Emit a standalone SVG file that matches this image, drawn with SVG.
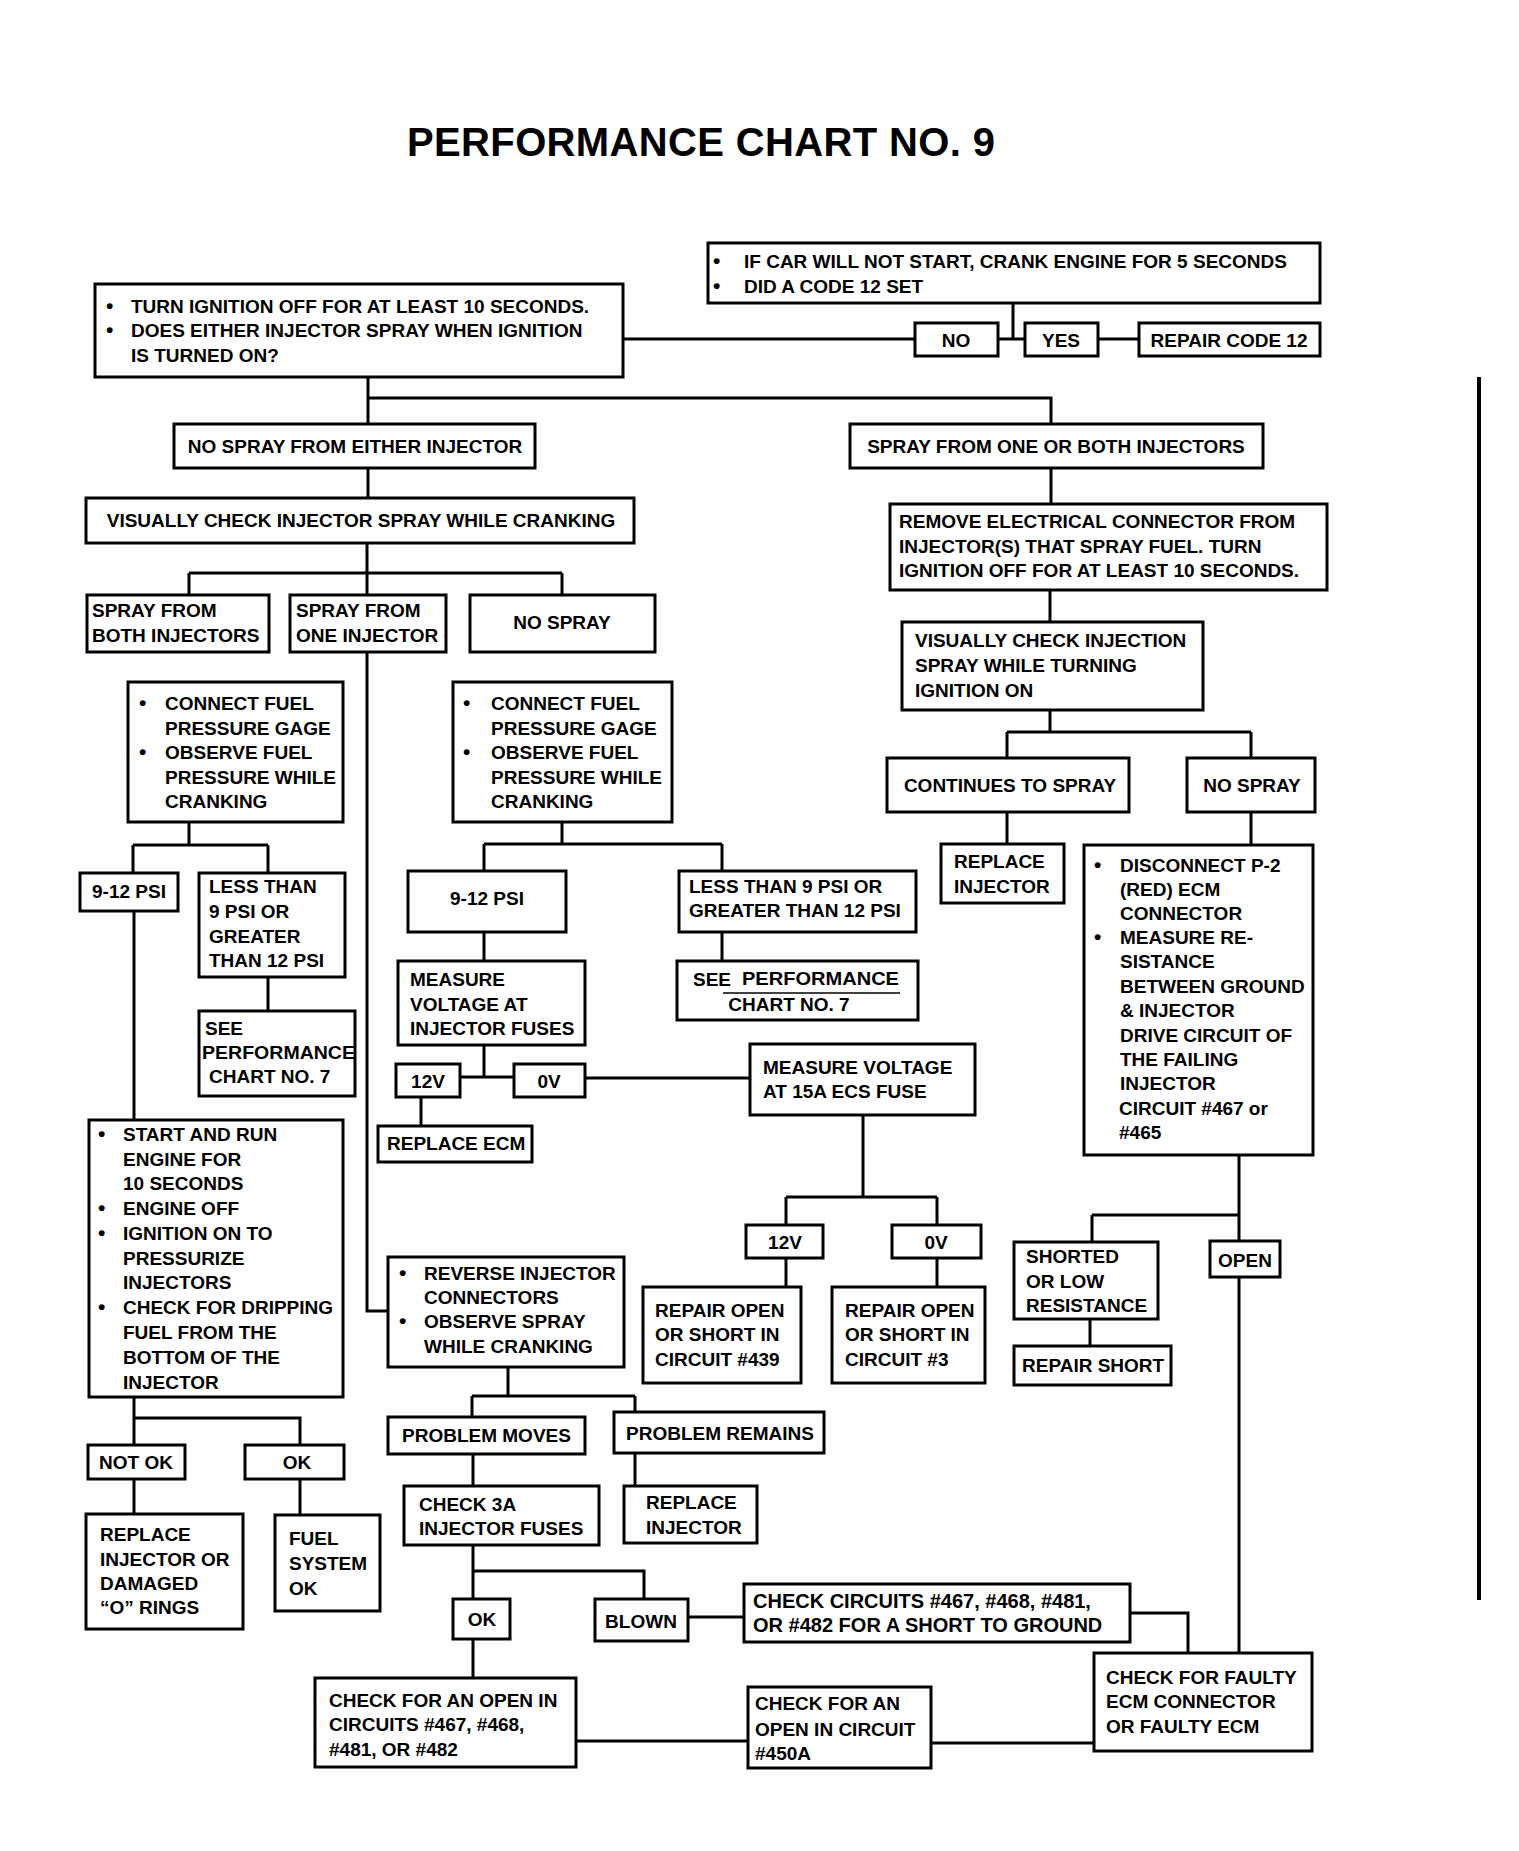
<svg xmlns="http://www.w3.org/2000/svg" width="1519" height="1851" viewBox="0 0 1519 1851">
<style>
.bx{fill:#fff;stroke:#000;stroke-width:3}
.ln{fill:none;stroke:#000;stroke-width:3}
text{font-family:"Liberation Sans",Arial,sans-serif;font-weight:bold;font-size:19px;fill:#000}
.m{text-anchor:middle}
.ttl{font-size:40px}
.big{font-size:20px}
.b{font-size:21px}
</style>
<rect width="1519" height="1851" fill="#fff"/>
<text class="ttl" x="407" y="156" textLength="588">PERFORMANCE CHART NO. 9</text>
<line x1="1479" y1="377" x2="1479" y2="1600" stroke="#000" stroke-width="4"/>

<g id="connectors" class="ln">
<path d="M623,339H915M998,339H1025M1013,303V339M1098,339H1139"/>
<path d="M368,377V424M368,398H1051V424"/>
<path d="M368,468V498M1051,468V504"/>
<path d="M367,543V595M189,573H562M189,573V595M562,573V595"/>
<path d="M367,652V1311H388"/>
<path d="M1050,590V622M1050,710V732M1007,732H1251M1007,732V758M1251,732V758"/>
<path d="M189,822V845M133,845H268M133,845V873M268,845V873"/>
<path d="M562,822V844M484,844H722M484,844V871M722,844V871"/>
<path d="M1007,812V844M1251,812V845"/>
<path d="M134,911V1120M268,977V1011M484,932V961M722,932V961"/>
<path d="M484,1045V1077M460,1077H514M585,1078H750M421,1097V1126"/>
<path d="M863,1115V1197M786,1197H937M786,1197V1225M937,1197V1225M786,1258V1287M937,1258V1287"/>
<path d="M1239,1155V1653M1092,1215H1239M1092,1215V1242M1090,1319V1346"/>
<path d="M134,1397V1445M134,1418H300V1445M134,1479V1514M300,1479V1515"/>
<path d="M508,1367V1396M472,1396H635M472,1396V1417M635,1396V1412"/>
<path d="M473,1454V1486M635,1453V1486"/>
<path d="M473,1545V1599M473,1571H644V1599M473,1639V1678"/>
<path d="M688,1617H744M1130,1613H1188V1653"/>
<path d="M576,1741H748M931,1743H1094"/>
</g>

<g id="n_turn_off"><rect class="bx" x="95" y="284" width="528" height="93"/>
<text class="b" x="106" y="313">•</text><text x="131" y="313">TURN IGNITION OFF FOR AT LEAST 10 SECONDS.</text>
<text class="b" x="106" y="337">•</text><text x="131" y="337">DOES EITHER INJECTOR SPRAY WHEN IGNITION</text>
<text x="131" y="362">IS TURNED ON?</text></g>

<g id="n_code12"><rect class="bx" x="708" y="243" width="612" height="60"/>
<text class="b" x="713" y="268">•</text><text x="744" y="268">IF CAR WILL NOT START, CRANK ENGINE FOR 5 SECONDS</text>
<text class="b" x="713" y="293">•</text><text x="744" y="293">DID A CODE 12 SET</text></g>

<g id="n_no"><rect class="bx" x="915" y="323" width="83" height="33"/><text class="m" x="956" y="347">NO</text></g>
<g id="n_yes"><rect class="bx" x="1025" y="323" width="73" height="33"/><text class="m" x="1061" y="347">YES</text></g>
<g id="n_repair12"><rect class="bx" x="1139" y="323" width="181" height="33"/><text class="m" x="1229" y="347">REPAIR CODE 12</text></g>

<g id="n_nospray_either"><rect class="bx" x="174" y="424" width="361" height="44"/><text class="m" x="355" y="453">NO SPRAY FROM EITHER INJECTOR</text></g>
<g id="n_spray_one_both"><rect class="bx" x="850" y="424" width="413" height="44"/><text class="m" x="1056" y="453">SPRAY FROM ONE OR BOTH INJECTORS</text></g>

<g id="n_visual_crank"><rect class="bx" x="86" y="498" width="548" height="45"/><text class="m" x="361" y="527">VISUALLY CHECK INJECTOR SPRAY WHILE CRANKING</text></g>

<g id="n_remove"><rect class="bx" x="890" y="504" width="437" height="86"/>
<text x="899" y="528">REMOVE ELECTRICAL CONNECTOR FROM</text>
<text x="899" y="553">INJECTOR(S) THAT SPRAY FUEL. TURN</text>
<text x="899" y="577">IGNITION OFF FOR AT LEAST 10 SECONDS.</text></g>

<g id="n_spray_both"><rect class="bx" x="87" y="595" width="182" height="57"/>
<text x="92" y="617">SPRAY FROM</text><text x="92" y="642">BOTH INJECTORS</text></g>
<g id="n_spray_one"><rect class="bx" x="290" y="595" width="156" height="57"/>
<text x="296" y="617">SPRAY FROM</text><text x="296" y="642">ONE INJECTOR</text></g>
<g id="n_nospray_left"><rect class="bx" x="470" y="595" width="185" height="57"/><text class="m" x="562" y="629">NO SPRAY</text></g>

<g id="n_visual_ign"><rect class="bx" x="902" y="622" width="301" height="88"/>
<text x="915" y="647">VISUALLY CHECK INJECTION</text>
<text x="915" y="672">SPRAY WHILE TURNING</text>
<text x="915" y="697">IGNITION ON</text></g>

<g id="n_gage_left"><rect class="bx" x="128" y="682" width="215" height="140"/>
<text class="b" x="139" y="710">•</text><text x="165" y="710">CONNECT FUEL</text>
<text x="165" y="735">PRESSURE GAGE</text>
<text class="b" x="139" y="759">•</text><text x="165" y="759">OBSERVE FUEL</text>
<text x="165" y="784">PRESSURE WHILE</text>
<text x="165" y="808">CRANKING</text></g>

<g id="n_gage_right"><rect class="bx" x="453" y="682" width="219" height="140"/>
<text class="b" x="463" y="710">•</text><text x="491" y="710">CONNECT FUEL</text>
<text x="491" y="735">PRESSURE GAGE</text>
<text class="b" x="463" y="759">•</text><text x="491" y="759">OBSERVE FUEL</text>
<text x="491" y="784">PRESSURE WHILE</text>
<text x="491" y="808">CRANKING</text></g>

<g id="n_continues"><rect class="bx" x="887" y="758" width="242" height="54"/><text class="m" x="1010" y="792">CONTINUES TO SPRAY</text></g>
<g id="n_nospray_right"><rect class="bx" x="1187" y="758" width="128" height="54"/><text class="m" x="1252" y="792">NO SPRAY</text></g>

<g id="n_replace_inj_up"><rect class="bx" x="941" y="844" width="123" height="59"/>
<text x="954" y="868">REPLACE</text><text x="954" y="893">INJECTOR</text></g>

<g id="n_disconnect"><rect class="bx" x="1084" y="845" width="229" height="310"/>
<text class="b" x="1094" y="872">•</text><text x="1120" y="872">DISCONNECT P-2</text>
<text x="1120" y="896">(RED) ECM</text>
<text x="1120" y="920">CONNECTOR</text>
<text class="b" x="1094" y="944">•</text><text x="1120" y="944">MEASURE RE-</text>
<text x="1120" y="968">SISTANCE</text>
<text x="1120" y="993">BETWEEN GROUND</text>
<text x="1120" y="1017">&amp; INJECTOR</text>
<text x="1120" y="1042">DRIVE CIRCUIT OF</text>
<text x="1120" y="1066">THE FAILING</text>
<text x="1120" y="1090">INJECTOR</text>
<text x="1119" y="1115">CIRCUIT #467 or</text>
<text x="1119" y="1139">#465</text></g>

<g id="n_psi_left"><rect class="bx" x="80" y="873" width="98" height="38"/><text class="m" x="129" y="898">9-12 PSI</text></g>
<g id="n_less_left"><rect class="bx" x="199" y="873" width="146" height="104"/>
<text x="209" y="893">LESS THAN</text><text x="209" y="918">9 PSI OR</text>
<text x="209" y="943">GREATER</text><text x="209" y="967">THAN 12 PSI</text></g>

<g id="n_psi_mid"><rect class="bx" x="408" y="871" width="158" height="61"/><text class="m" x="487" y="905">9-12 PSI</text></g>
<g id="n_less_mid"><rect class="bx" x="679" y="871" width="237" height="61"/>
<text x="689" y="893">LESS THAN 9 PSI OR</text><text x="689" y="917">GREATER THAN 12 PSI</text></g>

<g id="n_see7_left"><rect class="bx" x="199" y="1011" width="156" height="85"/>
<text x="205" y="1035">SEE</text>
<text x="202" y="1059" textLength="153" lengthAdjust="spacingAndGlyphs">PERFORMANCE</text>
<text x="209" y="1083">CHART NO. 7</text></g>

<g id="n_see7_mid"><rect class="bx" x="677" y="961" width="241" height="59"/>
<text x="693" y="986">SEE</text>
<text x="742" y="985" textLength="157" lengthAdjust="spacingAndGlyphs">PERFORMANCE</text>
<line x1="723" y1="993" x2="900" y2="993" stroke="#000" stroke-width="1.5"/>
<text class="m" x="789" y="1011">CHART NO. 7</text></g>

<g id="n_measure_inj"><rect class="bx" x="398" y="961" width="187" height="84"/>
<text x="410" y="986">MEASURE</text><text x="410" y="1011">VOLTAGE AT</text><text x="410" y="1035">INJECTOR FUSES</text></g>

<g id="n_12v_up"><rect class="bx" x="396" y="1064" width="64" height="33"/><text class="m" x="428" y="1088">12V</text></g>
<g id="n_0v_up"><rect class="bx" x="514" y="1064" width="71" height="33"/><text class="m" x="549" y="1088">0V</text></g>
<g id="n_replace_ecm"><rect class="bx" x="378" y="1126" width="154" height="36"/><text x="387" y="1150">REPLACE ECM</text></g>

<g id="n_measure_15a"><rect class="bx" x="750" y="1044" width="225" height="71"/>
<text x="763" y="1074">MEASURE VOLTAGE</text><text x="763" y="1098">AT 15A ECS FUSE</text></g>

<g id="n_12v_low"><rect class="bx" x="746" y="1225" width="77" height="33"/><text class="m" x="785" y="1249">12V</text></g>
<g id="n_0v_low"><rect class="bx" x="892" y="1225" width="89" height="33"/><text class="m" x="936" y="1249">0V</text></g>

<g id="n_repair439"><rect class="bx" x="643" y="1287" width="158" height="96"/>
<text x="655" y="1317">REPAIR OPEN</text><text x="655" y="1341">OR SHORT IN</text><text x="655" y="1366">CIRCUIT #439</text></g>
<g id="n_repair3"><rect class="bx" x="832" y="1287" width="153" height="96"/>
<text x="845" y="1317">REPAIR OPEN</text><text x="845" y="1341">OR SHORT IN</text><text x="845" y="1366">CIRCUIT #3</text></g>

<g id="n_start_run"><rect class="bx" x="89" y="1120" width="254" height="277"/>
<text class="b" x="98" y="1141">•</text><text x="123" y="1141">START AND RUN</text>
<text x="123" y="1166">ENGINE FOR</text>
<text x="123" y="1190">10 SECONDS</text>
<text class="b" x="98" y="1215">•</text><text x="123" y="1215">ENGINE OFF</text>
<text class="b" x="98" y="1240">•</text><text x="123" y="1240">IGNITION ON TO</text>
<text x="123" y="1265">PRESSURIZE</text>
<text x="123" y="1289">INJECTORS</text>
<text class="b" x="98" y="1314">•</text><text x="123" y="1314">CHECK FOR DRIPPING</text>
<text x="123" y="1339">FUEL FROM THE</text>
<text x="123" y="1364">BOTTOM OF THE</text>
<text x="123" y="1389">INJECTOR</text></g>

<g id="n_reverse"><rect class="bx" x="388" y="1257" width="236" height="110"/>
<text class="b" x="399" y="1280">•</text><text x="424" y="1280">REVERSE INJECTOR</text>
<text x="424" y="1304">CONNECTORS</text>
<text class="b" x="399" y="1328">•</text><text x="424" y="1328">OBSERVE SPRAY</text>
<text x="424" y="1353">WHILE CRANKING</text></g>

<g id="n_shorted"><rect class="bx" x="1014" y="1242" width="144" height="77"/>
<text x="1026" y="1263">SHORTED</text><text x="1026" y="1288">OR LOW</text><text x="1026" y="1312">RESISTANCE</text></g>
<g id="n_open"><rect class="bx" x="1210" y="1241" width="70" height="36"/><text class="m" x="1245" y="1267">OPEN</text></g>
<g id="n_repair_short"><rect class="bx" x="1014" y="1346" width="157" height="39"/><text x="1022" y="1372">REPAIR SHORT</text></g>

<g id="n_notok"><rect class="bx" x="88" y="1445" width="97" height="34"/><text x="99" y="1469">NOT OK</text></g>
<g id="n_ok_left"><rect class="bx" x="245" y="1445" width="99" height="34"/><text class="m" x="297" y="1469">OK</text></g>
<g id="n_replace_oring"><rect class="bx" x="86" y="1514" width="157" height="115"/>
<text x="100" y="1541">REPLACE</text><text x="100" y="1566">INJECTOR OR</text>
<text x="100" y="1590">DAMAGED</text><text x="100" y="1614">“O” RINGS</text></g>
<g id="n_fuel_ok"><rect class="bx" x="275" y="1515" width="105" height="96"/>
<text x="289" y="1545">FUEL</text><text x="289" y="1570">SYSTEM</text><text x="289" y="1595">OK</text></g>

<g id="n_problem_moves"><rect class="bx" x="388" y="1417" width="197" height="37"/><text x="402" y="1442">PROBLEM MOVES</text></g>
<g id="n_problem_remains"><rect class="bx" x="614" y="1412" width="210" height="41"/><text x="626" y="1440">PROBLEM REMAINS</text></g>
<g id="n_check3a"><rect class="bx" x="404" y="1486" width="195" height="59"/>
<text x="419" y="1511">CHECK 3A</text><text x="419" y="1535">INJECTOR FUSES</text></g>
<g id="n_replace_inj_low"><rect class="bx" x="624" y="1486" width="133" height="57"/>
<text x="646" y="1509">REPLACE</text><text x="646" y="1534">INJECTOR</text></g>

<g id="n_ok_low"><rect class="bx" x="453" y="1599" width="57" height="40"/><text class="m" x="482" y="1626">OK</text></g>
<g id="n_blown"><rect class="bx" x="595" y="1599" width="93" height="42"/><text class="m" x="641" y="1628">BLOWN</text></g>
<g id="n_check_circuits"><rect class="bx" x="744" y="1584" width="386" height="58"/>
<text class="big" x="753" y="1608">CHECK CIRCUITS #467, #468, #481,</text>
<text class="big" x="753" y="1632">OR #482 FOR A SHORT TO GROUND</text></g>

<g id="n_open_circuits"><rect class="bx" x="315" y="1678" width="261" height="89"/>
<text x="329" y="1707">CHECK FOR AN OPEN IN</text>
<text x="329" y="1731">CIRCUITS #467, #468,</text>
<text x="329" y="1756">#481, OR #482</text></g>
<g id="n_open_450a"><rect class="bx" x="748" y="1687" width="183" height="81"/>
<text x="755" y="1710">CHECK FOR AN</text><text x="755" y="1736">OPEN IN CIRCUIT</text><text x="755" y="1760">#450A</text></g>
<g id="n_faulty_ecm"><rect class="bx" x="1094" y="1653" width="218" height="98"/>
<text x="1106" y="1684">CHECK FOR FAULTY</text><text x="1106" y="1708">ECM CONNECTOR</text><text x="1106" y="1733">OR FAULTY ECM</text></g>
</svg>
